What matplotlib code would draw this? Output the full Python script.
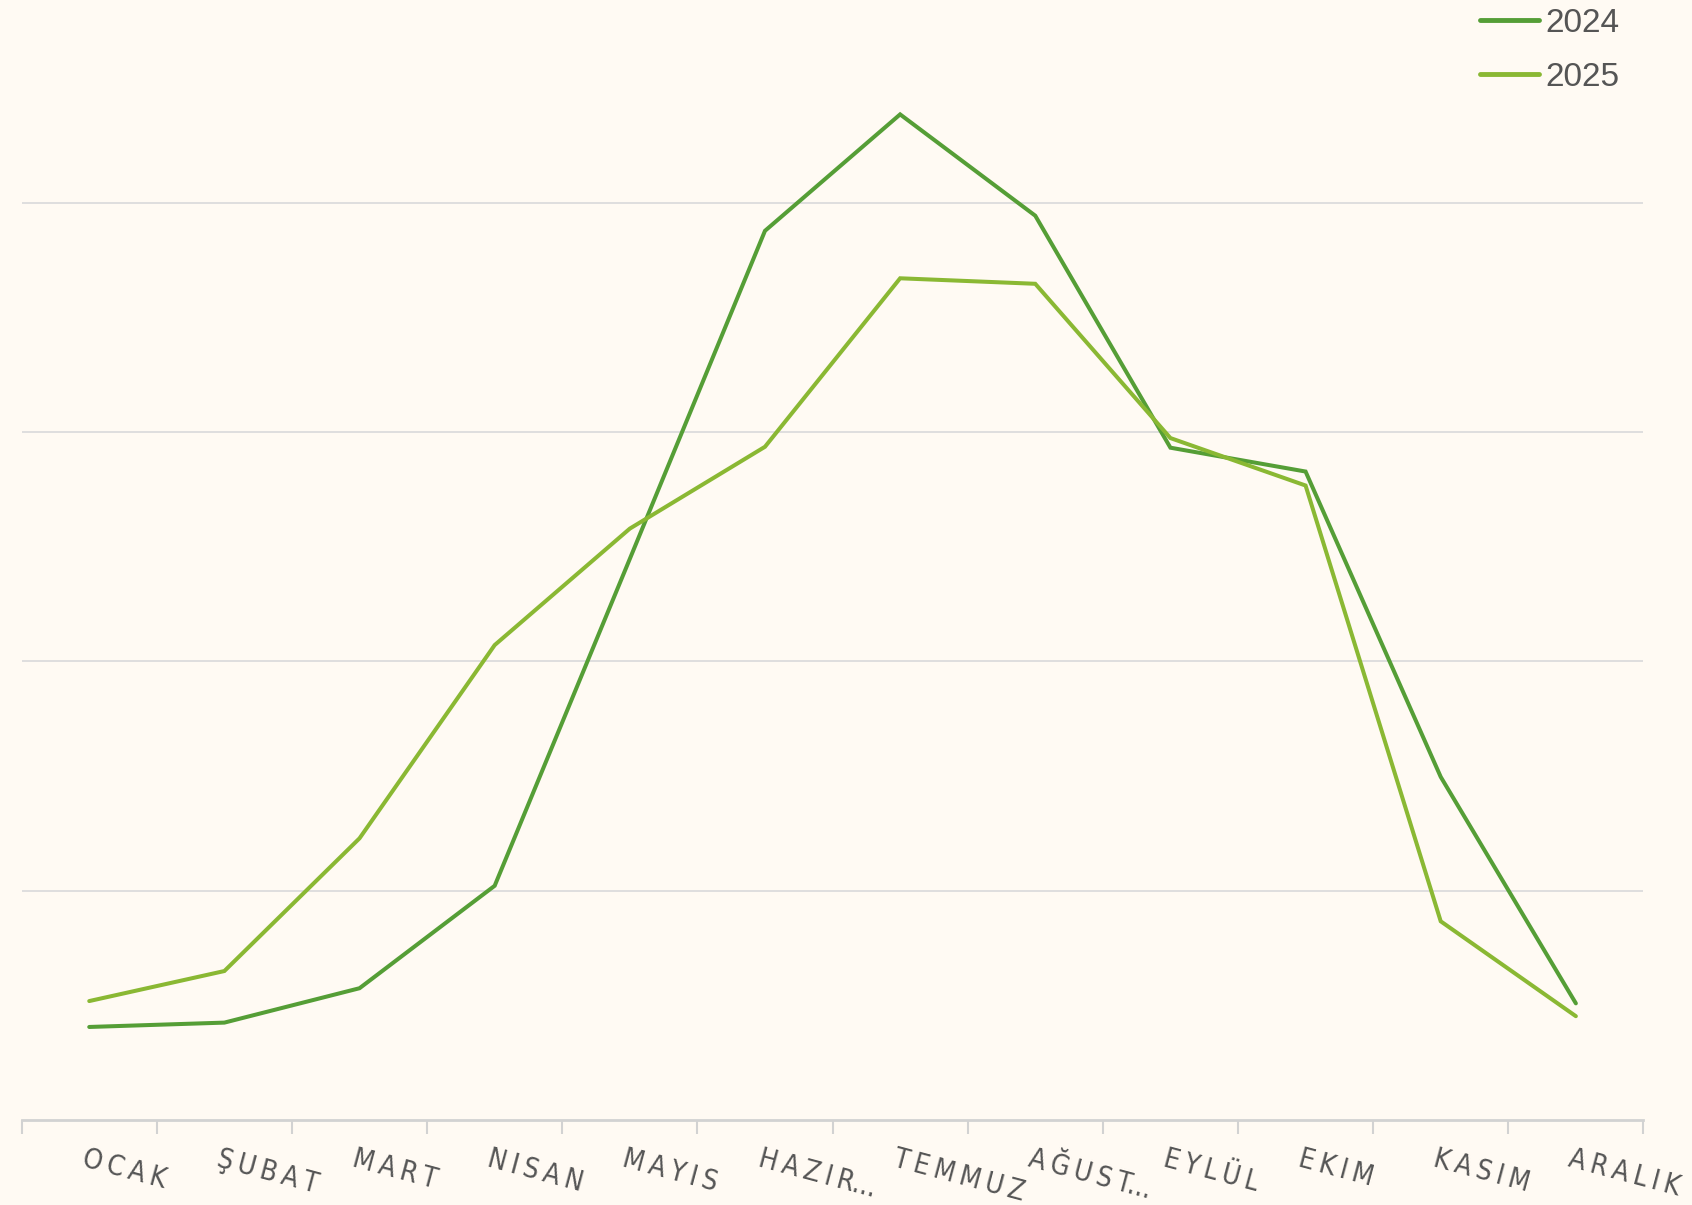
import matplotlib
matplotlib.use("Agg")
import matplotlib.pyplot as plt
from matplotlib import font_manager
import numpy as np

# ── Data ───────────────────────────────────────────────────────────────────────
MONTHS = ["OCAK", "ŞUBAT", "MART", "NISAN", "MAYIS", "HAZIR...",
          "TEMMUZ", "AĞUST...", "EYLÜL", "EKIM", "KASIM", "ARALIK"]

VALUES_2024 = [0.405, 0.424, 0.574, 1.021, 2.447, 3.878,
               4.386, 3.944, 2.932, 2.828, 1.496, 0.508]
VALUES_2025 = [0.518, 0.649, 1.228, 2.071, 2.579, 2.936,
               3.671, 3.647, 2.974, 2.767, 0.866, 0.452]

SERIES = ["2024", "2025"]
COLORS = {"2024": "#559E36", "2025": "#8AB833"}

BG = "#FFFAF3"
GRID = "#DCDCDC"
TEXT = "#555555"

# use a condensed face for the month labels if the system has one
has_condensed = any(f.name == "DejaVu Sans" and str(f.stretch) in ("condensed", "semi-condensed", "75", "87")
                    for f in font_manager.fontManager.ttflist)
if has_condensed:
    LABEL_KW = dict(fontsize=20, fontstretch="condensed")
    SEP = "\u2009"
else:
    LABEL_KW = dict(fontsize=18)
    SEP = "\u200a"


def spaced(label):
    # mimic the letter-spaced axis labels, keep the ellipsis tight
    core, dots = (label[:-3], "...") if label.endswith("...") else (label, "")
    return SEP.join(core) + dots


fig = plt.figure(figsize=(16.92, 12.05), dpi=100, facecolor=BG)
ax = fig.add_axes([0.0128, 0.0707, 0.9585, 0.9293], facecolor=BG)

x = np.arange(len(MONTHS))
for name, vals in zip(SERIES, [VALUES_2024, VALUES_2025]):
    ax.plot(x, vals, color=COLORS[name], lw=2.9, label=name,
            solid_capstyle="round", solid_joinstyle="miter", zorder=3)

ax.set_xlim(-0.5, len(MONTHS) - 0.5)
ax.set_ylim(0, 4.885)

# horizontal grid
for gy in [1, 2, 3, 4]:
    ax.axhline(gy, color=GRID, lw=1.3, zorder=1)
ax.axhline(0, color="#D2D2D2", lw=2.0, zorder=2, clip_on=False)

for s in ax.spines.values():
    s.set_visible(False)

# tick marks at category boundaries
ax.set_xticks(np.arange(-0.5, len(MONTHS)))
ax.set_xticklabels([])
ax.tick_params(axis="x", length=10, width=1.5, color="#D2D2D2", direction="out")
ax.set_yticks([])

# rotated month labels
for i, m in enumerate(MONTHS):
    ax.text(i - 0.02, -0.11, spaced(m), rotation=-15, rotation_mode="anchor",
            ha="left", va="top", color=TEXT, family=["DejaVu Sans"],
            clip_on=False, **LABEL_KW)

leg = ax.legend(loc="upper right", bbox_to_anchor=(0.9935, 1.005), frameon=False,
                fontsize=24, handlelength=1.75, handletextpad=0.2,
                labelspacing=0.7, borderaxespad=0.0)
for t in leg.get_texts():
    t.set_color(TEXT)
    t.set_family(["Liberation Sans"])
for line in leg.get_lines():
    line.set_linewidth(3.5)

fig.savefig("out.png", dpi=100, facecolor=BG)
